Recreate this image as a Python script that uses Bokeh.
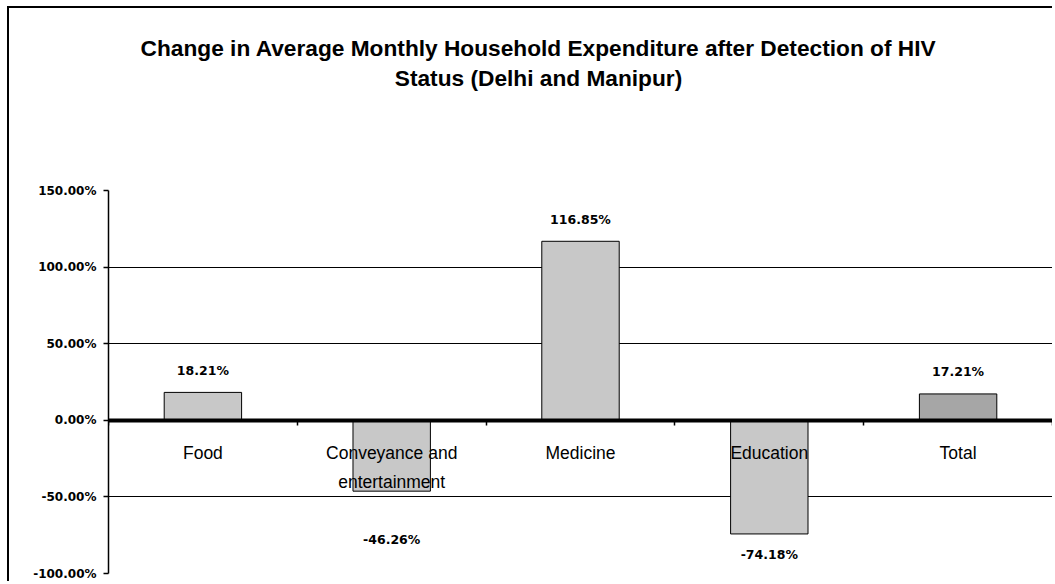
from bokeh.plotting import figure
from bokeh.models import ColumnDataSource, Range1d, FixedTicker
from bokeh.core.properties import value
from bokeh.embed import file_html
from bokeh.resources import INLINE

# ---------------- data ----------------
categories = ["Food", "Conveyance and\nentertainment", "Medicine", "Education", "Total"]
changes = [18.21, -46.26, 116.85, -74.18, 17.21]
bar_colors = ["#C8C8C8", "#C8C8C8", "#C8C8C8", "#C8C8C8", "#A6A6A6"]
y_ticks = [-100, -50, 0, 50, 100, 150]
y_tick_labels = ["-100.00%", "-50.00%", "0.00%", "50.00%", "100.00%", "150.00%"]
grid_values = [-50, 50, 100]
title_lines = ["Change in Average Monthly Household Expenditure after Detection of HIV",
               "Status (Delhi and Manipur)"]

# extra label shift (style) for the conveyance label, which sits lower
label_extra_shift = [0, 27, 0, 0, 0]

centers = [i + 0.5 for i in range(len(categories))]
value_labels = ["%.2f%%" % v for v in changes]
label_offsets = [(-22 if v >= 0 else 21) + s for v, s in zip(changes, label_extra_shift)]

src = ColumnDataSource(dict(x=centers, top=changes, color=bar_colors,
                            lab=value_labels, off=label_offsets, cat=categories))

# ---------------- layout (pixels) ----------------
W, H = 1045, 575
LEFT, RIGHT, BOTTOM = 99, 2, 10
AXIS_TOP_PX = 182          # where 150 % sits, from canvas top
Y_MIN, Y_MAX = y_ticks[0], y_ticks[-1]
frame_h = H - BOTTOM
px_per_unit = (frame_h - AXIS_TOP_PX) / (Y_MAX - Y_MIN)
y_end = Y_MAX + AXIS_TOP_PX / px_per_unit

p = figure(width=W, height=H,
           x_range=Range1d(0, len(categories)), y_range=Range1d(Y_MIN, y_end),
           output_backend="svg", toolbar_location=None,
           min_border_left=LEFT, min_border_top=0, min_border_bottom=BOTTOM,
           min_border_right=RIGHT)
p.styles = {"margin-left": "7px", "margin-top": "6px",
            "border-left": "2px solid #000", "border-top": "2px solid #000"}
p.outline_line_color = None
p.background_fill_color = "white"
p.border_fill_color = "white"

# title drawn inside the (extended) frame
frame_w = W - LEFT - RIGHT
title_cx = (529 - LEFT) / frame_w * len(categories)
title_ys = [y_end - 39 / px_per_unit, y_end - 69 / px_per_unit]
p.text(x=[title_cx] * 2, y=title_ys, text=title_lines,
       text_font=value("Liberation Sans"), text_font_size="22.7px", text_font_style="bold",
       text_align="center", text_baseline="middle", text_color="black")

# grid
p.xgrid.visible = False
p.ygrid.ticker = FixedTicker(ticks=grid_values)
p.ygrid.grid_line_color = "black"
p.ygrid.grid_line_width = 1.2

# y axis
ya = p.yaxis[0]
ya.bounds = (Y_MIN, Y_MAX)
ya.ticker = FixedTicker(ticks=y_ticks)
ya.major_label_overrides = {t: l for t, l in zip(y_ticks, y_tick_labels)}
ya.axis_line_color = "black"
ya.axis_line_width = 1.5
ya.major_tick_line_color = "black"
ya.major_tick_line_width = 1.5
ya.major_tick_out = 5
ya.major_tick_in = 0
ya.minor_tick_line_color = None
ya.major_label_text_font = "DejaVu Sans"
ya.major_label_text_font_style = "bold"
ya.major_label_text_font_size = "12px"
ya.major_label_text_color = "black"
ya.major_label_standoff = 7

# bars
p.vbar(x="x", top="top", bottom=0, width=0.41, fill_color="color",
       line_color="black", line_width=1, source=src)

# x axis at zero with boundary ticks (minor ticks only, no labels)
xa = p.xaxis[0]
xa.fixed_location = 0
xa.ticker = FixedTicker(ticks=[], minor_ticks=list(range(len(categories) + 1)))
xa.axis_line_color = "black"
xa.axis_line_width = 4
xa.major_tick_line_color = None
xa.minor_tick_line_color = "black"
xa.minor_tick_line_width = 1.5
xa.minor_tick_out = 5
xa.minor_tick_in = 0

# value labels
p.text(x="x", y="top", text="lab", y_offset="off", source=src,
       text_font=value("DejaVu Sans"), text_font_style="bold", text_font_size="12.5px",
       text_align="center", text_baseline="middle", text_color="black")

# category labels
p.text(x="x", y=0, text="cat", y_offset=23, source=src,
       text_font=value("Liberation Sans"), text_font_size="17.5px",
       text_align="center", text_baseline="top", text_color="black", text_line_height=1.45)

open("out.html", "w").write(file_html(p, INLINE))
